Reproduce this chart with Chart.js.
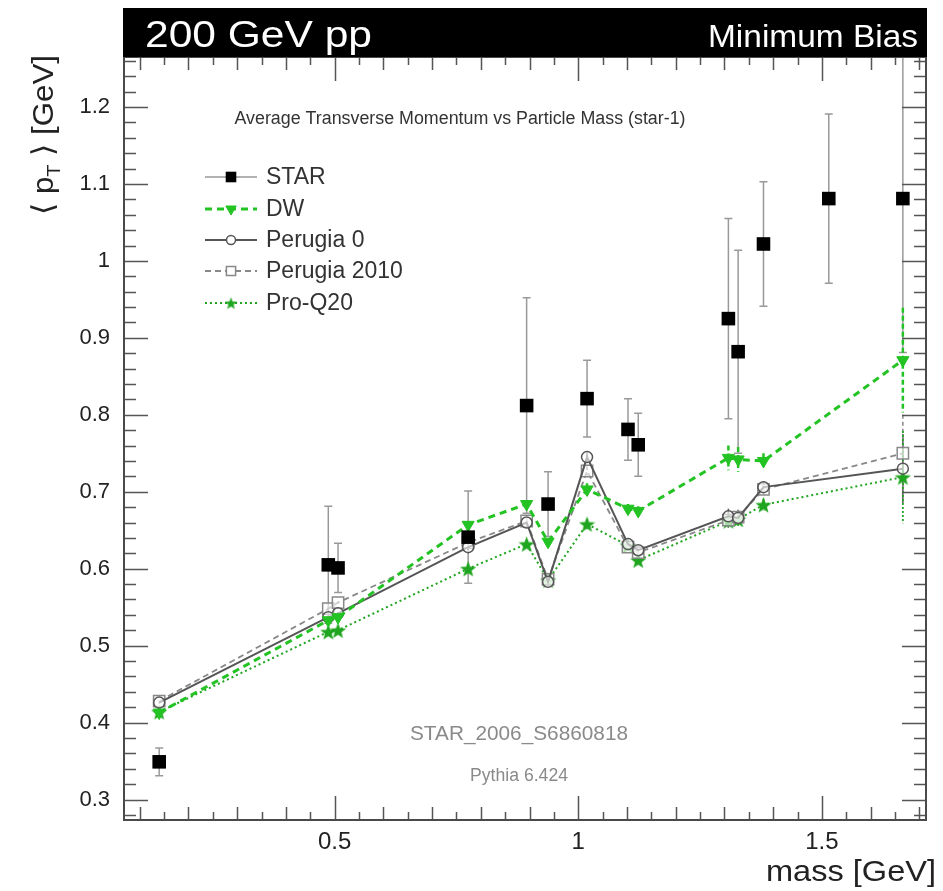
<!DOCTYPE html>
<html><head><meta charset="utf-8">
<script src="https://cdn.jsdelivr.net/npm/chart.js@4.4.1/dist/chart.umd.min.js"></script>
<style>html,body{margin:0;padding:0;background:#fff}#wrap{width:943px;height:891px}</style>
</head><body><div id="wrap"><canvas id="c" width="943" height="891"></canvas></div>
<script>
// ---------- data ----------
const massData   = [0.140, 0.487, 0.507, 0.774, 0.894, 0.938, 1.018, 1.102, 1.123, 1.308, 1.328, 1.380, 1.514, 1.666];
const starValues = [0.349, 0.605, 0.601, 0.641, 0.812, 0.684, 0.821, 0.781, 0.761, 0.925, 0.882, 1.022, 1.081, 1.081];
const starErrors = [0.018, 0.076, 0.032, 0.060, 0.140, 0.042, 0.050, 0.040, 0.041, 0.130, 0.132, 0.081, 0.110, 0.200];

const massMC      = [0.140, 0.487, 0.507, 0.774, 0.894, 0.938, 1.018, 1.102, 1.123, 1.308, 1.328, 1.380, 1.666];
const dwValues    = [0.413, 0.533, 0.537, 0.657, 0.684, 0.635, 0.703, 0.678, 0.675, 0.744, 0.742, 0.740, 0.871];
const dwErrors    = [0.002, 0.002, 0.002, 0.004, 0.005, 0.004, 0.008, 0.006, 0.006, 0.016, 0.016, 0.010, 0.068];
const p0Values    = [0.426, 0.537, 0.542, 0.628, 0.660, 0.583, 0.745, 0.632, 0.624, 0.668, 0.666, 0.706, 0.730];
const p0Errors    = [0.002, 0.002, 0.002, 0.004, 0.005, 0.004, 0.006, 0.005, 0.005, 0.010, 0.010, 0.008, 0.045];
const p2010Values = [0.428, 0.548, 0.556, 0.634, 0.662, 0.586, 0.727, 0.628, 0.621, 0.663, 0.667, 0.703, 0.750];
const p2010Errors = [0.002, 0.002, 0.002, 0.004, 0.005, 0.004, 0.006, 0.005, 0.005, 0.010, 0.010, 0.008, 0.050];
const pq20Values  = [0.414, 0.518, 0.520, 0.600, 0.632, 0.585, 0.658, 0.630, 0.611, 0.662, 0.664, 0.683, 0.719];
const pq20Errors  = [0.002, 0.002, 0.002, 0.004, 0.005, 0.004, 0.006, 0.005, 0.005, 0.010, 0.010, 0.008, 0.060];

const seriesNames = ['STAR', 'DW', 'Perugia 0', 'Perugia 2010', 'Pro-Q20'];
const xTickValues = [0.5, 1, 1.5];
const xTickLabels = ['0.5', '1', '1.5'];
const yTickValues = [0.3, 0.4, 0.5, 0.6, 0.7, 0.8, 0.9, 1.0, 1.1, 1.2];
const yTickLabels = ['0.3', '0.4', '0.5', '0.6', '0.7', '0.8', '0.9', '1', '1.1', '1.2'];
const xRange = [0.0678, 1.7135];
const yRange = [0.2734, 1.265];

// ---------- styling ----------
const FONT = '"Liberation Sans", Arial, Helvetica, "DejaVu Sans", sans-serif';
const GREEN_DW = '#22c322';
const GREEN_PQ = '#1fa51f';

function makeStar(size, color) {
  const c = document.createElement('canvas');
  c.width = c.height = size;
  const g = c.getContext('2d');
  g.fillStyle = color;
  g.beginPath();
  const cx = size / 2, cy = size / 2 + size * 0.05, R = size / 2, r = R * 0.42;
  for (let k = 0; k < 10; k++) {
    const a = -Math.PI / 2 + k * Math.PI / 5;
    const rr = k % 2 ? r : R;
    g.lineTo(cx + rr * Math.cos(a), cy + rr * Math.sin(a));
  }
  g.closePath(); g.fill();
  return c;
}
const starImg = makeStar(17, GREEN_PQ);
const starImgSmall = makeStar(13, GREEN_PQ);

const pts = (xs, ys) => xs.map((x, i) => ({x: x, y: ys[i]}));

const datasets = [
  {label: seriesNames[0], data: pts(massData, starValues), errorBars: starErrors, errColor: '#999', errWidth: 1.5, errCap: 4,
   showLine: false, pointStyle: 'rect', pointRadius: 9.6, pointBackgroundColor: '#000', pointBorderColor: '#000', pointBorderWidth: 0,
   legendLine: {color: '#999', width: 1.5, dash: []}, legendRadius: 7.5},
  {label: seriesNames[1], data: pts(massMC, dwValues), errorBars: dwErrors, errColor: GREEN_DW, errWidth: 2.5, errCap: 0, errDash: [5, 3],
   borderColor: GREEN_DW, borderWidth: 3, borderDash: [7, 5], tension: 0, fill: false,
   pointStyle: 'triangle', rotation: 180, pointRadius: 7, pointBackgroundColor: GREEN_DW, pointBorderColor: GREEN_DW, pointBorderWidth: 1,
   legendRadius: 6},
  {label: seriesNames[2], data: pts(massMC, p0Values), errorBars: p0Errors, errColor: '#555', errWidth: 1.5, errCap: 0,
   borderColor: '#555', borderWidth: 2, tension: 0, fill: false,
   pointStyle: 'circle', pointRadius: 5.5, pointBackgroundColor: 'rgba(255,255,255,0.6)', pointBorderColor: '#555', pointBorderWidth: 1.5,
   legendRadius: 4.5},
  {label: seriesNames[3], data: pts(massMC, p2010Values), errorBars: p2010Errors, errColor: '#888', errWidth: 1.5, errCap: 0, errDash: [4, 3],
   borderColor: '#888', borderWidth: 1.8, borderDash: [6, 4], tension: 0, fill: false,
   pointStyle: 'rect', pointRadius: 8, pointBackgroundColor: 'rgba(255,255,255,0.6)', pointBorderColor: '#888', pointBorderWidth: 1.5,
   legendRadius: 6.5},
  {label: seriesNames[4], data: pts(massMC, pq20Values), errorBars: pq20Errors, errColor: GREEN_PQ, errWidth: 1.8, errCap: 0, errDash: [2, 2],
   borderColor: GREEN_PQ, borderWidth: 2, borderDash: [2, 3], tension: 0, fill: false,
   pointStyle: starImg, pointRadius: 8, pointBackgroundColor: GREEN_PQ, pointBorderColor: GREEN_PQ,
   legendImg: starImgSmall}
];

// ---------- helpers ----------
function fitText(ctx, text, x, y, size, width, align, color) {
  ctx.save();
  ctx.font = size + 'px ' + FONT;
  ctx.fillStyle = color;
  ctx.textBaseline = 'alphabetic';
  ctx.textAlign = 'left';
  const w = ctx.measureText(text).width;
  const sx = width ? width / w : 1;
  const drawnW = w * sx;
  let x0 = x;
  if (align === 'right') x0 = x - drawnW;
  else if (align === 'center') x0 = x - drawnW / 2;
  ctx.translate(x0, y);
  ctx.scale(sx, 1);
  ctx.fillText(text, 0, 0);
  ctx.restore();
}

// error bars under the markers
const errorBarPlugin = {
  id: 'errorBars',
  beforeDatasetsDraw(chart) {
    const {ctx, chartArea: a, scales: {x, y}} = chart;
    ctx.save();
    ctx.beginPath(); ctx.rect(a.left, a.top, a.right - a.left, a.bottom - a.top); ctx.clip();
    chart.data.datasets.forEach(ds => {
      if (!ds.errorBars) return;
      ctx.strokeStyle = ds.errColor; ctx.lineWidth = ds.errWidth;
      ctx.setLineDash(ds.errDash || []);
      ds.data.forEach((p, i) => {
        const e = ds.errorBars[i];
        const px = x.getPixelForValue(p.x);
        const y1 = y.getPixelForValue(p.y + e), y2 = y.getPixelForValue(p.y - e);
        ctx.beginPath(); ctx.moveTo(px, y1); ctx.lineTo(px, y2); ctx.stroke();
        if (ds.errCap) {
          ctx.beginPath();
          ctx.moveTo(px - ds.errCap, y1); ctx.lineTo(px + ds.errCap, y1);
          ctx.moveTo(px - ds.errCap, y2); ctx.lineTo(px + ds.errCap, y2);
          ctx.stroke();
        }
      });
    });
    ctx.restore();
  }
};

// frame, ticks on all sides, header, texts, legend
const decoPlugin = {
  id: 'deco',
  afterDraw(chart) {
    const {ctx, chartArea: a, scales: {x, y}} = chart;
    ctx.save();
    // ticks
    ctx.strokeStyle = '#555'; ctx.lineWidth = 1.5; ctx.setLineDash([]);
    for (let k = Math.ceil(x.min / 0.05); k * 0.05 <= x.max + 1e-9; k++) {
      const px = Math.round(x.getPixelForValue(k * 0.05)) + 0.5;
      const len = (k % 10 === 0) ? 24 : (k % 2 === 0 ? 13 : 8);
      ctx.beginPath();
      ctx.moveTo(px, a.bottom); ctx.lineTo(px, a.bottom - len);
      ctx.moveTo(px, a.top); ctx.lineTo(px, a.top + len);
      ctx.stroke();
    }
    for (let k = Math.ceil(y.min / 0.02 - 1e-9); k * 0.02 <= y.max + 1e-9; k++) {
      const py = Math.round(y.getPixelForValue(k * 0.02)) + 0.5;
      const len = (k % 5 === 0) ? 24 : 12;
      ctx.beginPath();
      ctx.moveTo(a.left, py); ctx.lineTo(a.left + len, py);
      ctx.moveTo(a.right, py); ctx.lineTo(a.right - len, py);
      ctx.stroke();
    }
    // frame
    ctx.strokeStyle = '#4a4a4a'; ctx.lineWidth = 2;
    ctx.strokeRect(a.left, a.top, a.right - a.left, a.bottom - a.top);
    // header
    ctx.fillStyle = '#000';
    ctx.fillRect(a.left - 1, 8, a.right - a.left + 2, a.top - 8);
    fitText(ctx, '200 GeV pp', a.left + 21, 47, 36, 227, 'left', '#fff');
    fitText(ctx, 'Minimum Bias', a.right - 8, 47, 31, 210, 'right', '#fff');
    // inner title
    fitText(ctx, 'Average Transverse Momentum vs Particle Mass (star-1)', 460, 124, 18, 451, 'center', '#333');
    // legend
    const rows = [177, 209, 240, 271, 303];
    chart.data.datasets.forEach((ds, i) => {
      const ly = rows[i];
      const lc = ds.legendLine ? ds.legendLine.color : ds.borderColor;
      const lw = ds.legendLine ? ds.legendLine.width : ds.borderWidth;
      const dash = ds.legendLine ? ds.legendLine.dash : (ds.borderDash || []);
      ctx.save();
      ctx.strokeStyle = lc; ctx.lineWidth = lw; ctx.setLineDash(dash);
      ctx.beginPath(); ctx.moveTo(205, ly); ctx.lineTo(257, ly); ctx.stroke();
      ctx.restore();
      ctx.save();
      if (ds.legendImg) {
        ctx.drawImage(ds.legendImg, 231 - ds.legendImg.width / 2, ly - ds.legendImg.height / 2);
      } else {
        ctx.fillStyle = ds.pointBackgroundColor === 'rgba(255,255,255,0.6)' ? '#fff' : ds.pointBackgroundColor;
        ctx.strokeStyle = ds.pointBorderColor; ctx.lineWidth = ds.pointBorderWidth || 1; ctx.setLineDash([]);
        Chart.helpers.drawPoint(ctx, {pointStyle: ds.pointStyle, rotation: ds.rotation || 0, radius: ds.legendRadius, borderWidth: ds.pointBorderWidth || 0}, 231, ly);
      }
      ctx.restore();
      ctx.save();
      ctx.font = '23px ' + FONT; ctx.fillStyle = '#333'; ctx.textBaseline = 'middle'; ctx.textAlign = 'left';
      ctx.fillText(ds.label, 266, ly + 1);
      ctx.restore();
    });
    // analysis / generator labels
    fitText(ctx, 'STAR_2006_S6860818', 519, 740, 20, 218, 'center', '#8a8a8a');
    fitText(ctx, 'Pythia 6.424', 519, 781, 18, 98, 'center', '#8a8a8a');
    // x axis title
    fitText(ctx, 'mass [GeV]', 936, 881, 29, 170, 'right', '#222');
    // y axis title (rotated, aligned to the top)
    ctx.save();
    ctx.translate(53, 55);
    ctx.rotate(-Math.PI / 2);
    ctx.fillStyle = '#222';
    const big = '30px ' + FONT, small = '19px ' + FONT;
    const parts = [['\u27E8 p', big, 0], ['T', small, 7], [' \u27E9 [GeV]', big, 0]];
    let total = 0;
    parts.forEach(p => { ctx.font = p[1]; total += ctx.measureText(p[0]).width; });
    const sx = 160 / total;
    ctx.scale(sx, 1);
    let cx = -total;
    ctx.textBaseline = 'alphabetic'; ctx.textAlign = 'left';
    parts.forEach(p => { ctx.font = p[1]; ctx.fillText(p[0], cx, p[2]); cx += ctx.measureText(p[0]).width; });
    ctx.restore();
    ctx.restore();
  }
};

new Chart(document.getElementById('c'), {
  type: 'line',
  data: {datasets: datasets},
  options: {
    responsive: false,
    animation: false,
    devicePixelRatio: 1,
    layout: {padding: {left: 0, right: 17, top: 57, bottom: 0}},
    plugins: {legend: {display: false}, tooltip: {enabled: false}, title: {display: false}},
    scales: {
      x: {
        type: 'linear', min: xRange[0], max: xRange[1],
        afterBuildTicks: s => { s.ticks = xTickValues.map(v => ({value: v})); },
        afterFit: s => { s.height = 71; },
        grid: {display: false, drawTicks: false},
        border: {display: false},
        ticks: {callback: (v, i) => xTickLabels[i], font: {family: FONT, size: 24}, color: '#222', padding: 8, maxRotation: 0, autoSkip: false}
      },
      y: {
        type: 'linear', min: yRange[0], max: yRange[1],
        afterBuildTicks: s => { s.ticks = yTickValues.map(v => ({value: v})); },
        afterFit: s => { s.width = 124; },
        grid: {display: false, drawTicks: false},
        border: {display: false},
        ticks: {callback: (v, i) => yTickLabels[i], font: {family: FONT, size: 22}, color: '#222', padding: 14, autoSkip: false}
      }
    }
  },
  plugins: [errorBarPlugin, decoPlugin]
});
</script>
</body></html>
